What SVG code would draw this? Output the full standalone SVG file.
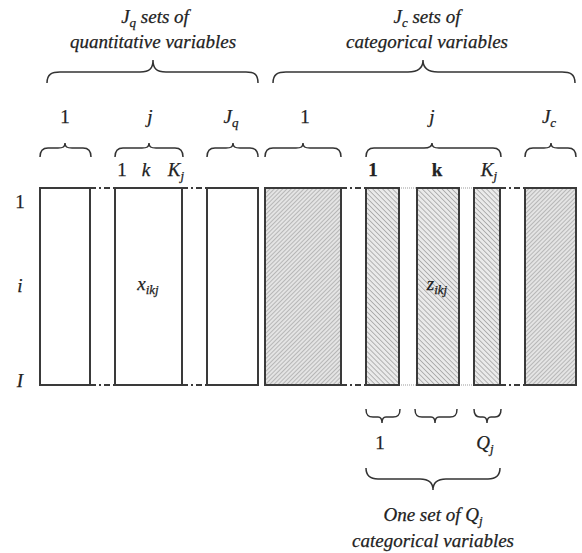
<svg xmlns="http://www.w3.org/2000/svg" width="582" height="553" viewBox="0 0 582 553">
<style>
text{font-family:"Liberation Serif","Times New Roman",serif;font-style:italic;fill:#222;font-size:19px;text-anchor:middle;stroke:#222;stroke-width:0.25}
.up{font-style:normal}
.b{font-style:normal;font-weight:bold}
.col{stroke:#3a3a3a;stroke-width:2}
.plain{fill:#fff}
.h1{fill:url(#hatchA)}
.h2{fill:url(#hatchB)}
.brace{fill:none;stroke:#333;stroke-width:1.5}
.dd{stroke:#3a3a3a;stroke-width:2;stroke-dasharray:6,3,2,3;fill:none}
.dt{stroke:#999;stroke-width:1;stroke-dasharray:1,1;fill:none}
</style>
<defs>
<pattern id="hatchA" patternUnits="userSpaceOnUse" width="3" height="3" patternTransform="rotate(45)">
<rect width="3" height="3" fill="#e4e4e4"/>
<line x1="0" y1="0" x2="0" y2="3" stroke="#8a8a8a" stroke-width="1"/>
</pattern>
<pattern id="hatchB" patternUnits="userSpaceOnUse" width="3.5" height="3.5" patternTransform="rotate(-45)">
<rect width="3.5" height="3.5" fill="#eaeaea"/>
<line x1="0" y1="0" x2="0" y2="3.5" stroke="#7a7a7a" stroke-width="1"/>
</pattern>
</defs>

<g id="top-labels">
<text x="155" y="23">J<tspan font-size="13" dy="4">q</tspan><tspan dy="-4"> sets of</tspan></text>
<text x="153" y="48">quantitative variables</text>
<text x="427" y="23">J<tspan font-size="13" dy="4">c</tspan><tspan dy="-4"> sets of</tspan></text>
<text x="427" y="48">categorical variables</text>
<path class="brace" d="M47,83 C47,74 52,72 60,72 L140,72 C150,72 153,68 153,60 C153,68 156,72 166,72 L246,72 C254,72 258,74 258,83"/>
<path class="brace" d="M273,83 C273,74 278,72 286,72 L408,72 C418,72 423,68 423,60 C423,68 428,72 438,72 L562,72 C570,72 575,74 575,83"/>
</g>

<g id="set-labels">
<text class="up" x="65" y="123">1</text>
<text x="150" y="123">j</text>
<text x="231" y="123">J<tspan font-size="13" dy="4">q</tspan></text>
<text class="up" x="305" y="123">1</text>
<text x="432" y="123">j</text>
<text x="549" y="123">J<tspan font-size="13" dy="4">c</tspan></text>
<path class="brace" d="M40,157 C40,150 43,148 48,148 L58,148 C63,148 65,147 65,143 C65,147 67,148 72,148 L83,148 C88,148 91,150 91,157"/>
<path class="brace" d="M115,157 C115,150 118,148 123,148 L142,148 C147,148 149,147 149,143 C149,147 151,148 156,148 L175,148 C180,148 183,150 183,157"/>
<path class="brace" d="M207,157 C207,150 210,148 215,148 L226,148 C231,148 233,147 233,143 C233,147 235,148 240,148 L250,148 C255,148 258,150 258,157"/>
<path class="brace" d="M265,157 C265,150 268,148 273,148 L296,148 C301,148 303,147 303,143 C303,147 305,148 310,148 L333,148 C338,148 341,150 341,157"/>
<path class="brace" d="M366,157 C366,150 369,148 374,148 L424,148 C429,148 432,147 432,143 C432,147 434,148 439,148 L493,148 C498,148 501,150 501,157"/>
<path class="brace" d="M525,157 C525,150 528,148 533,148 L544,148 C549,148 551,147 551,143 C551,147 553,148 558,148 L568,148 C573,148 576,150 576,157"/>
</g>

<g id="col-labels">
<text class="up" x="122" y="176">1</text>
<text x="146" y="176">k</text>
<text x="176" y="176">K<tspan font-size="13" dy="4">j</tspan></text>
<text class="b" x="373" y="176">1</text>
<text class="b" x="437" y="176">k</text>
<text x="489" y="176">K<tspan font-size="13" dy="4">j</tspan></text>
</g>

<g id="row-labels">
<text class="up" x="20" y="208">1</text>
<text x="20" y="292">i</text>
<text x="20" y="387">I</text>
</g>

<g id="connectors">
<path class="dd" d="M90,188 H115 M182,188 H207 M341,188 H366 M500,188 H525 M90,385 H115 M182,385 H207 M341,385 H366 M500,385 H525"/>
<path class="dt" d="M399,188 H417 M459,188 H474 M399,385 H417 M459,385 H474"/>
</g>

<g id="quant-1"><rect class="col plain" x="40" y="188" width="50" height="197"/></g>
<g id="quant-j"><rect class="col plain" x="115" y="188" width="67" height="197"/>
<text x="148" y="290">x<tspan font-size="13" dy="4">ikj</tspan></text></g>
<g id="quant-Jq"><rect class="col plain" x="207" y="188" width="51" height="197"/></g>
<g id="cat-1"><rect class="col h1" x="265" y="188" width="76" height="197"/></g>
<g id="cat-j-1"><rect class="col h2" x="366" y="188" width="33" height="197"/></g>
<g id="cat-j-k"><rect class="col h2" x="417" y="188" width="42" height="197"/>
<text x="437" y="290">z<tspan font-size="13" dy="4">ikj</tspan></text></g>
<g id="cat-j-Kj"><rect class="col h2" x="474" y="188" width="26" height="197"/></g>
<g id="cat-Jc"><rect class="col h1" x="525" y="188" width="51" height="197"/></g>

<g id="bottom-labels">
<path class="brace" d="M366,409 C366,415 368,417 373,417 L378,417 C381,417 382,419 382,423 C382,419 383,417 386,417 L393,417 C398,417 400,415 400,409"/>
<path class="brace" d="M415,409 C415,415 417,417 422,417 L431,417 C434,417 435,419 435,423 C435,419 436,417 439,417 L450,417 C455,417 457,415 457,409"/>
<path class="brace" d="M474,409 C474,415 476,417 480,417 L483,417 C486,417 487,419 487,423 C487,419 488,417 491,417 L495,417 C499,417 501,415 501,409"/>
<text class="up" x="380" y="449">1</text>
<text x="485" y="449">Q<tspan font-size="13" dy="4">j</tspan></text>
<path class="brace" d="M366,468 C366,476 370,479 378,479 L420,479 C428,479 433,482 433,490 C433,482 438,479 446,479 L488,479 C496,479 500,476 500,468"/>
<text x="433" y="521">One set of Q<tspan font-size="13" dy="4">j</tspan></text>
<text x="433" y="547">categorical variables</text>
</g>
</svg>
